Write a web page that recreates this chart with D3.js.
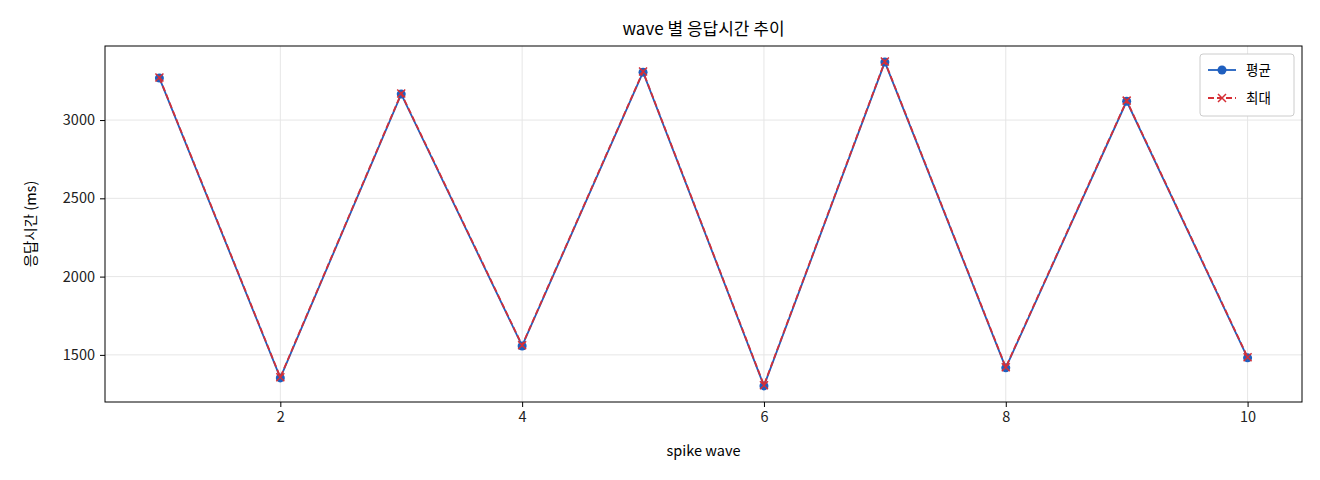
<!DOCTYPE html>
<html><head><meta charset="utf-8">
<script src="https://cdn.jsdelivr.net/npm/d3@7"></script>
<style>body{margin:0;background:#fff}text{font-family:"Noto Sans CJK KR","DejaVu Sans",sans-serif}</style>
</head><body><svg id="c" width="1320" height="480"></svg>
<script>
const waves = [1, 2, 3, 4, 5, 6, 7, 8, 9, 10];
const avgMs = [3268, 1353, 3166, 1557, 3306, 1302, 3370, 1417, 3120, 1481];
const maxMs = [3272, 1357, 3170, 1561, 3310, 1306, 3374, 1421, 3124, 1485];
const xTicks = [2, 4, 6, 8, 10];
const yTicks = [1500, 2000, 2500, 3000];

const svg = d3.select('#c');
const m = { l: 105, r: 1302, t: 46, b: 402 };
const x = d3.scaleLinear().domain([0.55, 10.45]).range([m.l, m.r]);
const y = d3.scaleLinear().domain([1199, 3473]).range([m.b, m.t]);

// 그리드
svg.append('g').selectAll('line').data(xTicks).join('line')
  .attr('x1', d => x(d)).attr('x2', d => x(d)).attr('y1', m.t).attr('y2', m.b)
  .attr('stroke', '#e6e6e6');
svg.append('g').selectAll('line').data(yTicks).join('line')
  .attr('y1', d => y(d)).attr('y2', d => y(d)).attr('x1', m.l).attr('x2', m.r)
  .attr('stroke', '#e6e6e6');

const ax = svg.append('g').attr('transform', `translate(0,${m.b})`)
  .call(d3.axisBottom(x).tickValues(xTicks).tickFormat(d3.format('d')).tickSize(5).tickPadding(5));
const ay = svg.append('g').attr('transform', `translate(${m.l},0)`)
  .call(d3.axisLeft(y).tickValues(yTicks).tickFormat(d3.format('d')).tickSize(5).tickPadding(5));
[ax, ay].forEach(a => {
  a.select('.domain').remove();
  a.selectAll('text').attr('font-size', 14.5).attr('fill', '#222');
});
svg.append('rect').attr('x', m.l).attr('y', m.t).attr('width', m.r - m.l).attr('height', m.b - m.t)
  .attr('fill', 'none').attr('stroke', '#000');

const line = d3.line().x((d, i) => x(waves[i])).y(d => y(d));
svg.append('path').attr('d', line(avgMs)).attr('fill', 'none').attr('stroke', '#1f5fbf').attr('stroke-width', 1.8);
svg.append('g').selectAll('circle').data(avgMs).join('circle')
  .attr('cx', (d, i) => x(waves[i])).attr('cy', d => y(d)).attr('r', 4.5).attr('fill', '#1f5fbf');
svg.append('path').attr('d', line(maxMs)).attr('fill', 'none').attr('stroke', '#d62f36')
  .attr('stroke-width', 1.8).attr('stroke-dasharray', '6,3');
const cross = (g, cx, cy, s) => g.append('path')
  .attr('d', `M${cx - s},${cy - s}L${cx + s},${cy + s}M${cx - s},${cy + s}L${cx + s},${cy - s}`)
  .attr('stroke', '#d62f36').attr('stroke-width', 1.5);
const mk = svg.append('g');
maxMs.forEach((d, i) => cross(mk, x(waves[i]), y(d), 4));

svg.append('text').attr('x', (m.l + m.r) / 2).attr('y', 35).attr('text-anchor', 'middle')
  .attr('font-size', 17).text('wave 별 응답시간 추이');
svg.append('text').attr('x', (m.l + m.r) / 2).attr('y', 456).attr('text-anchor', 'middle')
  .attr('font-size', 14.5).text('spike wave');
svg.append('text').attr('transform', `translate(36,${(m.t + m.b) / 2}) rotate(-90)`)
  .attr('text-anchor', 'middle').attr('font-size', 14.5).text('응답시간 (ms)');

// 범례
const lg = svg.append('g').attr('transform', 'translate(1200,54)');
lg.append('rect').attr('width', 94).attr('height', 62).attr('rx', 3).attr('fill', '#fff').attr('stroke', '#ccc');
lg.append('line').attr('x1', 8).attr('x2', 36).attr('y1', 16).attr('y2', 16).attr('stroke', '#1f5fbf').attr('stroke-width', 1.8);
lg.append('circle').attr('cx', 22).attr('cy', 16).attr('r', 4.5).attr('fill', '#1f5fbf');
lg.append('text').attr('x', 46).attr('y', 21).attr('font-size', 13.5).text('평균');
lg.append('line').attr('x1', 8).attr('x2', 36).attr('y1', 44).attr('y2', 44).attr('stroke', '#d62f36')
  .attr('stroke-width', 1.8).attr('stroke-dasharray', '6,3');
cross(lg, 22, 44, 4);
lg.append('text').attr('x', 46).attr('y', 49).attr('font-size', 13.5).text('최대');
</script></body></html>
